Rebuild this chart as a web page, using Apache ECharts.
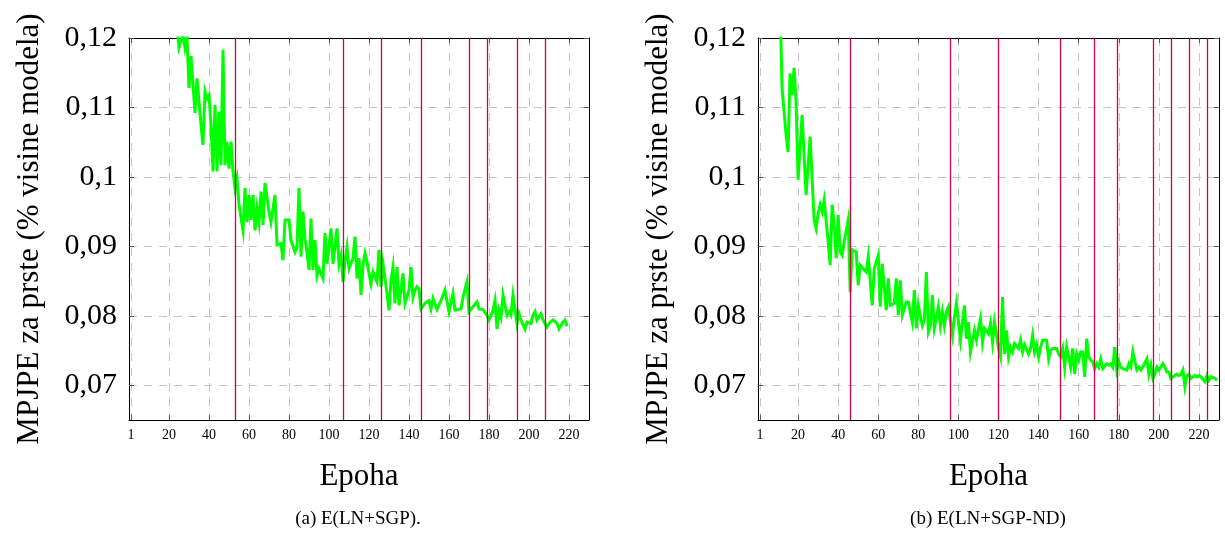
<!DOCTYPE html>
<html>
<head>
<meta charset="utf-8">
<script src="https://cdn.jsdelivr.net/npm/echarts@6/dist/echarts.min.js"></script>
<style>
html,body{margin:0;padding:0;background:#fff;}
#chart{width:1225px;height:550px;}
</style>
</head>
<body>
<div id="chart"></div>
<script>
// ---- tick labels ----
const xTicks = [1, 20, 40, 60, 80, 100, 120, 140, 160, 180, 200, 220];
const yTicks = [0.07, 0.08, 0.09, 0.10, 0.11, 0.12];

// ---- (a) E(LN+SGP) ----
const epochsA = [24,25,27,28,29,30,31,33,34,36,37,38,39,40,41,42,43,44,45,46,47,48,49,50,51,52,53,54,55,57,58,59,60,61,62,63,64,65,66,67,68,70,71,72,73,74,76,77,78,80,81,82,83,84,85,86,87,88,89,90,91,92,93,94,95,97,98,99,100,101,102,104,105,106,107,108,109,110,112,113,114,115,116,117,118,119,120,121,122,124,125,126,127,129,130,131,132,133,134,135,137,138,140,141,142,143,144,145,146,148,150,151,152,153,154,156,158,160,162,163,164,166,167,169,170,171,172,174,175,177,179,180,182,183,184,185,186,187,189,190,191,192,194,195,196,198,199,201,202,203,204,206,207,208,209,210,212,213,214,215,217,218,219];
const mpjpeA = [0.1215,0.1186,0.1205,0.1186,0.1202,0.1128,0.1174,0.1092,0.1142,0.1075,0.1046,0.1123,0.1113,0.1118,0.1075,0.1008,0.1104,0.1008,0.1094,0.1017,0.1183,0.1017,0.1051,0.1012,0.1051,0.1008,0.0984,0.0998,0.0960,0.0923,0.0984,0.0935,0.0974,0.0938,0.0974,0.0923,0.0955,0.0935,0.0979,0.0931,0.0991,0.0950,0.0935,0.0933,0.0974,0.0902,0.0904,0.0880,0.0938,0.0938,0.0909,0.0907,0.0892,0.0899,0.0984,0.0885,0.0950,0.0911,0.0892,0.0866,0.0940,0.0866,0.0909,0.0858,0.0868,0.0854,0.0919,0.0875,0.0875,0.0926,0.0875,0.0926,0.0875,0.0887,0.0849,0.0878,0.0899,0.0868,0.0883,0.0914,0.0854,0.0883,0.0830,0.0873,0.0890,0.0878,0.0861,0.0846,0.0863,0.0849,0.0895,0.0842,0.0875,0.0832,0.0808,0.0851,0.0870,0.0818,0.0870,0.0815,0.0861,0.0818,0.0837,0.0870,0.0827,0.0837,0.0842,0.0839,0.0810,0.0818,0.0822,0.0810,0.0825,0.0825,0.0809,0.0822,0.0837,0.0806,0.0832,0.0808,0.0810,0.0810,0.0827,0.0849,0.0806,0.0806,0.0813,0.0820,0.0810,0.0809,0.0801,0.0794,0.0808,0.0822,0.0781,0.0808,0.0798,0.0830,0.0801,0.0806,0.0801,0.0830,0.0789,0.0803,0.0794,0.0781,0.0791,0.0789,0.0801,0.0806,0.0794,0.0803,0.0794,0.0794,0.0784,0.0789,0.0794,0.0796,0.0789,0.0781,0.0791,0.0794,0.0785];
const changesA = [53, 107, 126, 146, 170, 179, 194, 208];

// ---- (b) E(LN+SGP-ND) ----
const epochsB = [11,12,14,15,16,17,18,19,20,22,24,26,28,29,30,31,32,33,35,36,37,38,39,40,41,42,43,45,46,47,49,50,51,53,54,55,57,58,60,61,62,64,65,66,68,69,70,71,72,74,75,77,78,79,80,82,83,84,85,86,87,88,90,91,92,93,94,95,97,98,99,101,102,103,104,105,106,108,109,111,112,113,115,116,117,118,119,120,121,122,123,124,125,126,127,128,130,131,132,133,135,136,137,138,139,140,141,142,144,145,146,147,149,150,151,152,153,154,156,157,158,159,160,161,162,163,164,165,166,167,168,169,170,171,172,174,175,176,177,178,179,180,181,182,184,185,186,187,189,190,191,192,194,195,196,197,198,199,200,202,203,204,205,206,208,209,210,211,212,213,214,215,216,218,219,220,221,223,224,225,226,228,229];
const mpjpeB = [0.1250,0.1128,0.1061,0.1036,0.1149,0.1118,0.1157,0.1109,0.0996,0.1089,0.0974,0.1058,0.0938,0.0926,0.0947,0.0960,0.0950,0.0967,0.0907,0.0873,0.0960,0.0931,0.0883,0.0945,0.0892,0.0887,0.0907,0.0938,0.0834,0.0895,0.0892,0.0844,0.0873,0.0866,0.0863,0.0885,0.0815,0.0868,0.0887,0.0813,0.0875,0.0808,0.0854,0.0815,0.0818,0.0854,0.0801,0.0851,0.0801,0.0820,0.0820,0.0791,0.0837,0.0782,0.0815,0.0786,0.0794,0.0863,0.0777,0.0786,0.0830,0.0782,0.0813,0.0786,0.0806,0.0786,0.0806,0.0813,0.0772,0.0798,0.0818,0.0765,0.0791,0.0815,0.0767,0.0791,0.0748,0.0779,0.0765,0.0796,0.0762,0.0782,0.0774,0.0789,0.0762,0.0791,0.0772,0.0753,0.0741,0.0827,0.0745,0.0779,0.0741,0.0755,0.0748,0.0760,0.0753,0.0765,0.0748,0.0758,0.0745,0.0753,0.0772,0.0748,0.0758,0.0741,0.0755,0.0765,0.0765,0.0738,0.0750,0.0753,0.0753,0.0745,0.0741,0.0753,0.0726,0.0755,0.0726,0.0753,0.0716,0.0745,0.0736,0.0748,0.0748,0.0712,0.0767,0.0741,0.0736,0.0734,0.0724,0.0731,0.0726,0.0738,0.0724,0.0731,0.0729,0.0731,0.0726,0.0755,0.0722,0.0734,0.0726,0.0724,0.0722,0.0731,0.0726,0.0748,0.0722,0.0726,0.0722,0.0726,0.0738,0.0716,0.0729,0.0710,0.0716,0.0726,0.0722,0.0731,0.0726,0.0719,0.0719,0.0710,0.0714,0.0716,0.0714,0.0716,0.0722,0.0698,0.0714,0.0716,0.0710,0.0714,0.0712,0.0714,0.0712,0.0705,0.0714,0.0707,0.0712,0.0710,0.0707];
const changesB = [46, 96, 120, 151, 168, 179, 197, 206, 215, 224];

// ---- labels ----
const yName = 'MPJPE za prste (% visine modela)';
const xName = 'Epoha';
const captions = ['(a) E(LN+SGP).', '(b) E(LN+SGP-ND)'];

const SERIF = '"Liberation Serif", "DejaVu Serif", serif';
const fmtY = v => String(+(+v).toFixed(2)).replace('.', ',');

function xAxes(g) {
  return [
    {
      type: 'value', gridIndex: g, min: 0, max: 230, position: 'bottom',
      axisLine: { show: true, onZero: false, lineStyle: { color: '#000', width: 1 } },
      axisTick: { show: true, inside: true, length: 5, customValues: xTicks, lineStyle: { color: '#555', width: 1 } },
      axisLabel: { customValues: xTicks, fontFamily: SERIF, fontSize: 14, color: '#000', margin: 8 },
      splitLine: { show: true, lineStyle: { color: '#c4c4c4', width: 1, type: [8, 7] } },
      name: xName, nameLocation: 'middle', nameGap: 41,
      nameTextStyle: { fontFamily: SERIF, fontSize: 31, color: '#000' }
    },
    {
      type: 'value', gridIndex: g, min: 0, max: 230, position: 'top',
      axisLine: { show: true, onZero: false, lineStyle: { color: '#000', width: 1 } },
      axisTick: { show: true, inside: true, length: 5, customValues: xTicks, lineStyle: { color: '#555', width: 1 } },
      axisLabel: { show: false },
      splitLine: { show: false }
    }
  ];
}
function yAxes(g) {
  return [
    {
      type: 'value', gridIndex: g, min: 0.065, max: 0.12, position: 'left',
      axisLine: { show: true, onZero: false, lineStyle: { color: '#000', width: 1 } },
      axisTick: { show: true, inside: true, length: 5, customValues: yTicks, lineStyle: { color: '#555', width: 1 } },
      axisLabel: { customValues: yTicks, formatter: fmtY, fontFamily: SERIF, fontSize: 30, color: '#000', margin: 12 },
      splitLine: { show: true, lineStyle: { color: '#c4c4c4', width: 1, type: [8, 7] } },
      name: yName, nameLocation: 'middle', nameRotate: 90, nameGap: 84,
      nameTextStyle: { fontFamily: SERIF, fontSize: 31, color: '#000' }
    },
    {
      type: 'value', gridIndex: g, min: 0.065, max: 0.12, position: 'right',
      axisLine: { show: true, onZero: false, lineStyle: { color: '#000', width: 1 } },
      axisTick: { show: true, inside: true, length: 5, customValues: yTicks, lineStyle: { color: '#555', width: 1 } },
      axisLabel: { show: false },
      splitLine: { show: false }
    }
  ];
}
function lineSeries(xi, yi, epochs, vals, changes) {
  return {
    type: 'line', xAxisIndex: xi, yAxisIndex: yi,
    data: epochs.map((e, i) => [e, vals[i]]),
    showSymbol: false, clip: true, animation: false,
    lineStyle: { color: '#00ff00', width: 3, join: 'miter' },
    itemStyle: { color: '#00ff00' },
    markLine: {
      silent: true, animation: false, symbol: ['none', 'none'],
      label: { show: false },
      lineStyle: { color: '#d0004a', width: 1.3, type: 'solid', opacity: 1 },
      emphasis: { disabled: true },
      data: changes.map(c => ({ xAxis: c }))
    }
  };
}

const chart = echarts.init(document.getElementById('chart'), null, { renderer: 'canvas' });
chart.setOption({
  animation: false,
  backgroundColor: '#fff',
  grid: [
    { left: 129, top: 38, width: 460, height: 382 },
    { left: 758, top: 38, width: 461, height: 382 }
  ],
  xAxis: [...xAxes(0), ...xAxes(1)],
  yAxis: [...yAxes(0), ...yAxes(1)],
  series: [
    lineSeries(0, 0, epochsA, mpjpeA, changesA),
    lineSeries(2, 2, epochsB, mpjpeB, changesB)
  ],
  graphic: [
    { type: 'text', x: 358, y: 519, style: { text: captions[0], font: '19px ' + SERIF, fill: '#000', align: 'center', verticalAlign: 'middle' } },
    { type: 'text', x: 988, y: 519, style: { text: captions[1], font: '19px ' + SERIF, fill: '#000', align: 'center', verticalAlign: 'middle' } }
  ]
});
</script>
</body>
</html>
